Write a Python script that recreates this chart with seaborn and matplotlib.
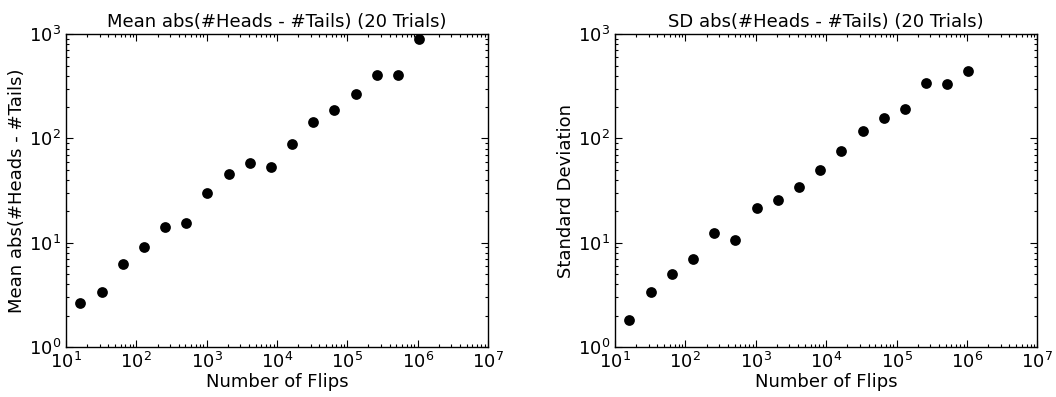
import numpy as np
import pandas as pd
import matplotlib
matplotlib.use('Agg')
import matplotlib.pyplot as plt
import seaborn as sns

# number of flips per trial: 2^4 .. 2^20
num_flips = [16, 32, 64, 128, 256, 512, 1024, 2048, 4096, 8192, 16384,
             32768, 65536, 131072, 262144, 524288, 1048576]
mean_diffs = [2.62, 3.37, 6.27, 9.17, 14.1, 15.3, 30.0, 45.8, 58.3, 52.7,
              87.7, 143, 188, 265, 402, 408, 903]
sd_diffs = [1.80, 3.35, 4.97, 7.05, 12.3, 10.7, 21.6, 25.4, 34.3, 49.3,
            75.8, 118, 156, 193, 340, 331, 439]

titles = ['Mean abs(#Heads - #Tails) (20 Trials)', 'SD abs(#Heads - #Tails) (20 Trials)']
ylabels = ['Mean abs(#Heads - #Tails)', 'Standard Deviation']
xlabel = 'Number of Flips'

sns.set_style('ticks', {'xtick.direction': 'in', 'ytick.direction': 'in',
                        'text.color': 'black', 'axes.labelcolor': 'black',
                        'xtick.color': 'black', 'ytick.color': 'black'})
plt.rcParams['font.family'] = ['DejaVu Sans']

df = pd.DataFrame({'flips': num_flips, 'mean': mean_diffs, 'sd': sd_diffs})

fig = plt.figure(figsize=(10.56, 3.97), dpi=100)
ax1 = fig.add_axes([0.0625, 0.126, 0.3996, 0.788])
ax2 = fig.add_axes([0.5824, 0.126, 0.4, 0.788])

for ax, col, title, ylab in zip([ax1, ax2], ['mean', 'sd'], titles, ylabels):
    sns.scatterplot(data=df, x='flips', y=col, ax=ax, color='black',
                    s=60, linewidth=0, edgecolor='black')
    ax.set_xscale('log')
    ax.set_yscale('log')
    ax.set_xlim(10, 1e7)
    ax.set_ylim(1, 1000)
    ax.set_title(title, fontsize=13, color='black', pad=5)
    ax.set_xlabel(xlabel, fontsize=13, labelpad=1)
    ax.set_ylabel(ylab, fontsize=13, labelpad=2)
    ax.tick_params(which='both', top=True, right=True, labelsize=13, width=0.8)
    ax.tick_params(which='major', length=5)
    ax.tick_params(which='minor', length=2.5)
    for sp in ax.spines.values():
        sp.set_linewidth(1.0)
        sp.set_color('black')

fig.savefig('out.png', dpi=100)
